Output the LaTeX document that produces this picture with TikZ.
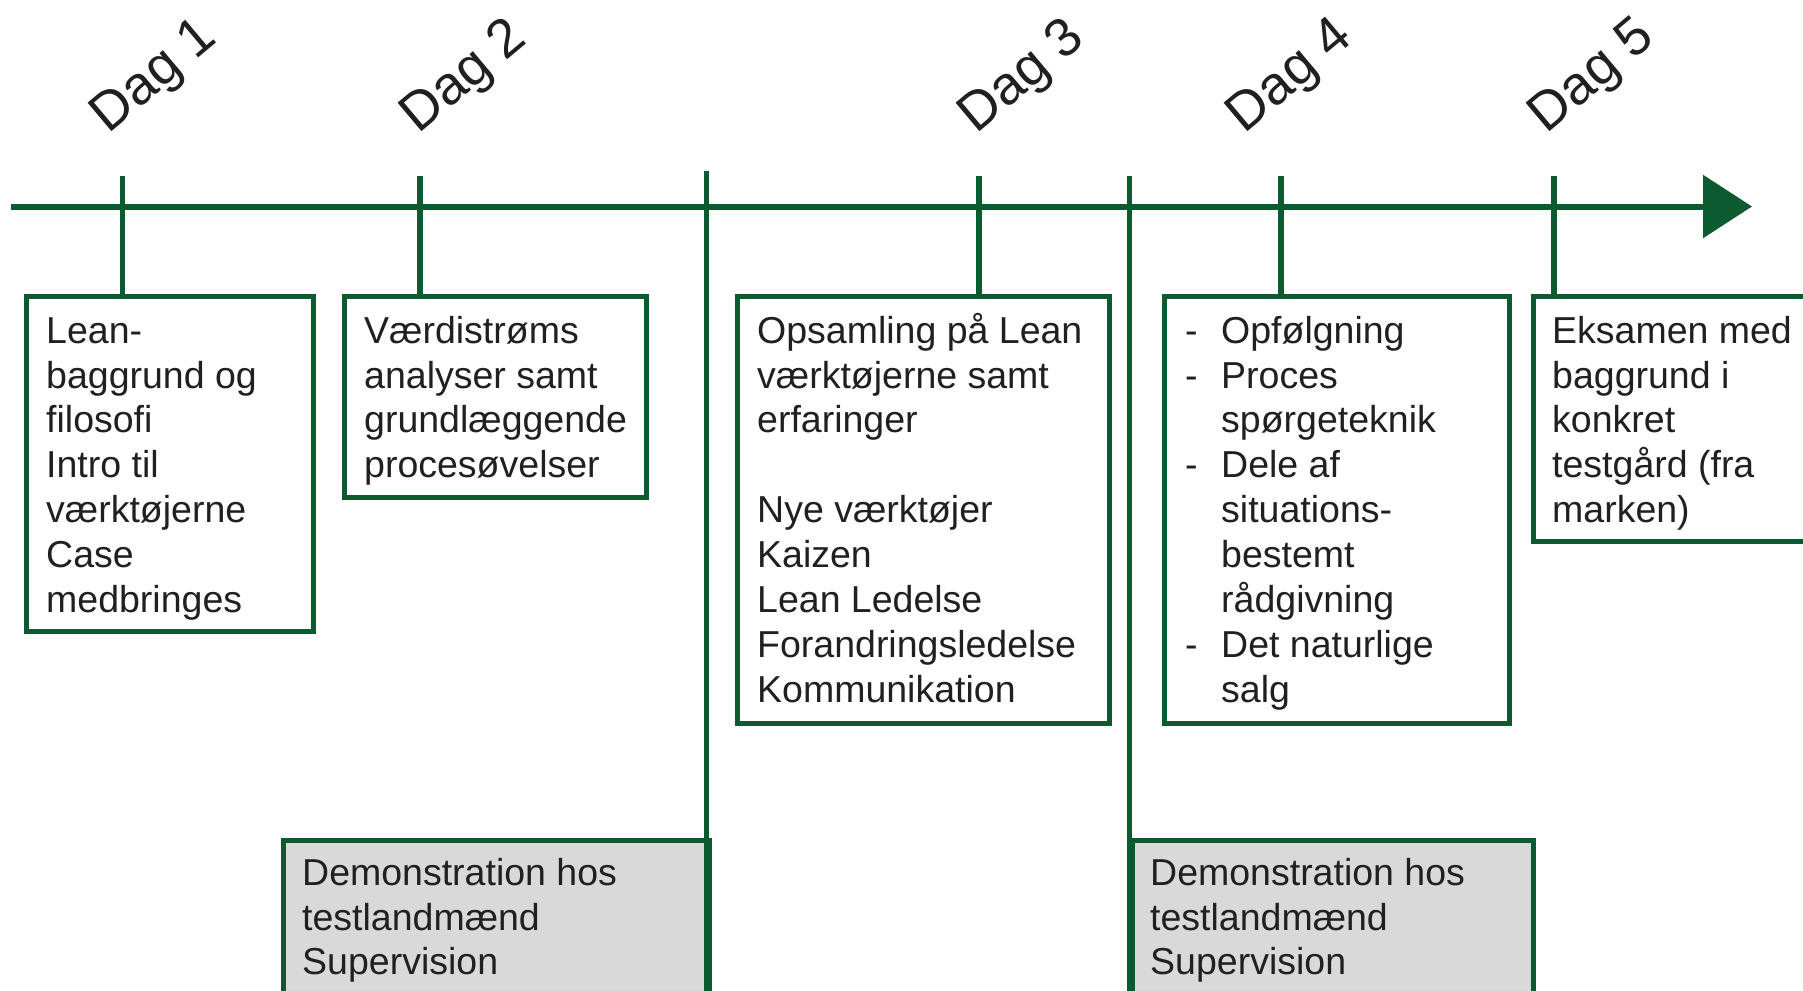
\documentclass[tikz,border=0pt]{standalone}
\usepackage{fontspec}
\setmainfont{Liberation Sans}
\usetikzlibrary{arrows.meta}
\definecolor{dgreen}{RGB}{12,90,48}
\definecolor{txt}{RGB}{32,32,32}
\definecolor{demofill}{RGB}{217,217,217}
\newcommand\firstln{\rule{0pt}{34pt}}
\newcommand\dsh{\makebox[36pt][l]{-}}
\newcommand\ind{\hspace*{36pt}}
\begin{document}
\begin{tikzpicture}[x=1pt,y=-1pt,
  gline/.style={draw=dgreen, line width=5.5pt},
  box/.style={draw=dgreen, line width=5pt, fill=white, inner sep=0pt, anchor=north west},
  demobox/.style={draw=dgreen, line width=5pt, fill=demofill, inner sep=0pt, anchor=north west},
  body/.style={inner sep=0pt, anchor=north west, align=left, text=txt, font=\fontsize{37.5}{44.85}\selectfont},
  daglbl/.style={inner sep=0pt, rotate=40, text=txt, font=\fontsize{54}{60}\selectfont}]
\clip (0,0) rectangle (1803,990);
\fill[white] (0,0) rectangle (1803,990);

% timeline
\coordinate (tstart) at (11,206.5);
\coordinate (tend) at (1752,206.5);
\draw[gline, line width=6pt, -{Triangle[length=49pt,width=62pt]}] (tstart) -- (tend);

% day labels
\node[daglbl] (d1) at (155,78) {Dag 1};
\node[daglbl] (d2) at (465,78) {Dag 2};
\node[daglbl] (d3) at (1023,78) {Dag 3};
\node[daglbl] (d4) at (1291,78) {Dag 4};
\node[daglbl] (d5) at (1593,78) {Dag 5};

% boxes
\node[box, minimum width=286.5pt, minimum height=335pt] (b1) at (24,294) {};
\node[box, minimum width=302pt, minimum height=201pt] (b2) at (341.5,294) {};
\node[box, minimum width=372pt, minimum height=427pt] (b3) at (735,294) {};
\node[box, minimum width=344.5pt, minimum height=427pt] (b4) at (1162,294) {};
\node[box, minimum width=320pt, minimum height=245pt] (b5) at (1530.5,294) {};
\node[demobox, minimum width=425.5pt, minimum height=200pt] (c1) at (281,838) {};
\node[demobox, minimum width=401pt, minimum height=200pt] (c2) at (1129.5,838) {};

% ticks
\coordinate (k1) at (122.5,176);
\coordinate (k2) at (420,176);
\coordinate (k3) at (979,176);
\coordinate (k4) at (1281,176);
\coordinate (k5) at (1554,176);
\draw[gline] (k1) -- (k1 |- b1.north);
\draw[gline] (k2) -- (k2 |- b2.north);
\draw[gline] (k3) -- (k3 |- b3.north);
\draw[gline] (k4) -- (k4 |- b4.north);
\draw[gline] (k5) -- (k5 |- b5.north);

% long separators
\coordinate (s1top) at (706.5,171);
\coordinate (s1bot) at (706.5,1000);
\coordinate (s2top) at (1129.5,176);
\coordinate (s2bot) at (1129.5,1000);
\draw[gline] (s1top) -- (s1bot);
\draw[gline] (s2top) -- (s2bot);

% texts
\node[body] (t1) at (46,309) {\firstln Lean-\\baggrund og\\filosofi\\Intro til\\værktøjerne\\Case\\medbringes};
\node[body] (t2) at (364,309) {\firstln Værdistrøms\\analyser samt\\grundlæggende\\procesøvelser};
\node[body] (t3) at (757,309) {\firstln Opsamling på Lean\\værktøjerne samt\\erfaringer\\[44.85pt]Nye værktøjer\\Kaizen\\Lean Ledelse\\Forandringsledelse\\Kommunikation};
\node[body] (t4) at (1185,309) {\firstln\dsh Opfølgning\\\dsh Proces\\\ind spørgeteknik\\\dsh Dele af\\\ind situations-\\\ind bestemt\\\ind rådgivning\\\dsh Det naturlige\\\ind salg};
\node[body] (t5) at (1552,309) {\firstln Eksamen med\\baggrund i\\konkret\\testgård (fra\\marken)};
\node[body] (t6) at (302,851) {\firstln Demonstration hos\\testlandmænd\\Supervision};
\node[body] (t7) at (1150,851) {\firstln Demonstration hos\\testlandmænd\\Supervision};
\end{tikzpicture}
\end{document}
